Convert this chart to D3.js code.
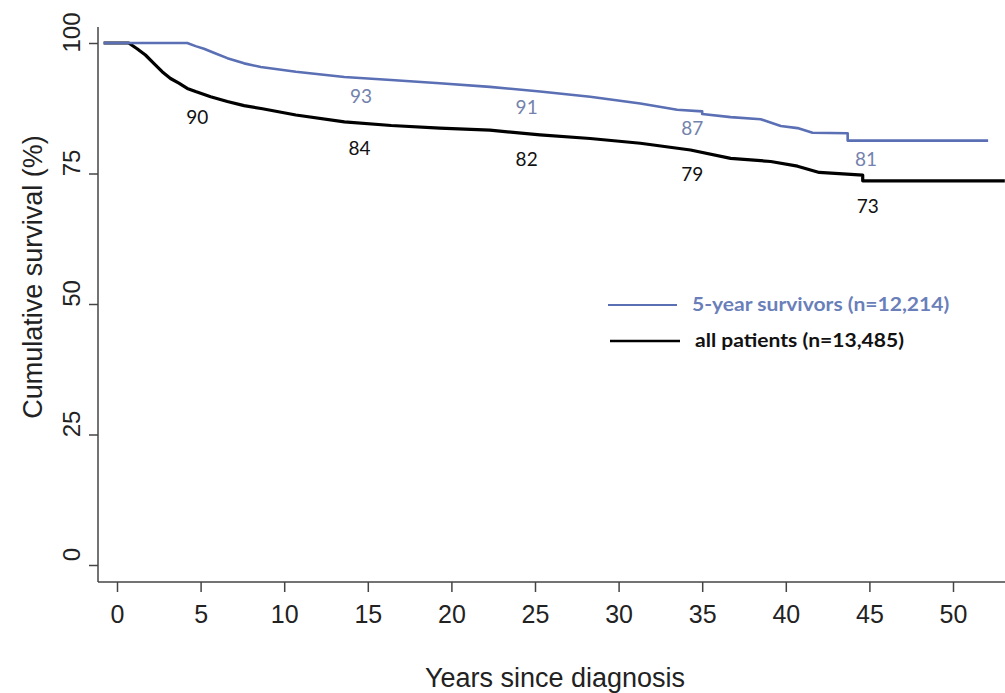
<!DOCTYPE html>
<meta charset="utf-8">
<head>
<title>Cumulative survival</title>
<style>
  body { margin: 0; background: white; }
  .tick text { font-family: "Liberation Sans", Arial, sans-serif; fill: #222; }
</style>
</head>
<body>
<div id="chart"></div>
<script src="https://d3js.org/d3.v7.min.js"></script>
<script>

// values
var blueYears = [-0.8, 4.2, 4.7, 5.2, 5.9, 6.6, 7.6, 8.6, 10.7, 13.6, 16.4, 19.3, 22.3, 25.3, 28.3, 31.3, 33.5, 35.0, 35.0, 36.7, 38.5, 39.7, 40.7, 41.6, 43.7, 43.7, 52.1];
var blueSurv  = [100, 100, 99.4, 98.9, 98.0, 97.1, 96.1, 95.4, 94.5, 93.5, 92.9, 92.3, 91.6, 90.7, 89.7, 88.4, 87.2, 86.9, 86.4, 85.8, 85.4, 84.1, 83.7, 82.8, 82.7, 81.3, 81.3];

var blackYears = [-0.8, 0.7, 1.2, 1.7, 2.2, 2.7, 3.2, 3.7, 4.2, 4.7, 5.6, 6.6, 7.6, 8.7, 10.7, 13.6, 16.4, 19.3, 22.3, 25.3, 28.3, 31.3, 34.3, 36.7, 39.1, 40.7, 42.0, 44.6, 44.6, 53.1];
var blackSurv  = [100, 100, 98.9, 97.7, 96.1, 94.5, 93.2, 92.3, 91.3, 90.7, 89.7, 88.8, 88.0, 87.4, 86.2, 84.9, 84.2, 83.7, 83.3, 82.4, 81.7, 80.8, 79.5, 77.9, 77.3, 76.4, 75.2, 74.7, 73.6, 73.6];

var blueLabelYears = [14.6, 24.5, 34.4, 44.8];
var blueLabels     = [93, 91, 87, 81];
var blackLabelYears = [4.8, 14.5, 24.5, 34.4, 44.9];
var blackLabels     = [90, 84, 82, 79, 73];

var xTicks = [0, 5, 10, 15, 20, 25, 30, 35, 40, 45, 50];
var yTicks = [0, 25, 50, 75, 100];

var seriesNames = ["5-year survivors (n=12,214)", "all patients (n=13,485)"];

var width = 1005, height = 693;
var blue = "#5a6fb4", blueText = "#7382ad";

var svg = d3.select("#chart")
  .append("svg")
    .attr("width", width)
    .attr("height", height);

var x = d3.scaleLinear().domain([0, 50]).range([117, 953]);
var y = d3.scaleLinear().domain([0, 100]).range([565, 43]);

var axisY = 582, axisX = 98;

// x axis
var gx = svg.append("g")
  .attr("transform", "translate(0," + axisY + ")")
  .call(d3.axisBottom(x).tickValues(xTicks).tickSize(10).tickPadding(13));
gx.select(".domain").remove();
gx.selectAll(".tick line").attr("stroke", "#444").attr("stroke-width", 1.5);
gx.selectAll(".tick text").style("font-size", "25px");
svg.append("line")
  .attr("x1", axisX).attr("x2", width)
  .attr("y1", axisY).attr("y2", axisY)
  .attr("stroke", "#444").attr("stroke-width", 1.5);

// y axis
var gy = svg.append("g")
  .attr("transform", "translate(" + axisX + ",0)")
  .call(d3.axisLeft(y).tickValues(yTicks).tickSize(9));
gy.select(".domain").remove();
gy.selectAll(".tick line").attr("stroke", "#444").attr("stroke-width", 1.5);
gy.selectAll(".tick text")
  .style("font-size", "24px")
  .attr("text-anchor", "middle")
  .attr("transform", "rotate(-90)")
  .attr("x", 11)
  .attr("y", -18)
  .attr("dy", 0);
svg.append("line")
  .attr("x1", axisX).attr("x2", axisX)
  .attr("y1", 27).attr("y2", axisY)
  .attr("stroke", "#444").attr("stroke-width", 1.5);

// axis titles
svg.append("text")
  .attr("x", 555).attr("y", 687)
  .attr("text-anchor", "middle")
  .style("font-family", "Liberation Sans, Arial, sans-serif")
  .style("font-size", "27px")
  .style("fill", "#222")
  .text("Years since diagnosis");

svg.append("text")
  .attr("transform", "translate(42,277) rotate(-90)")
  .attr("text-anchor", "middle")
  .style("font-family", "Liberation Sans, Arial, sans-serif")
  .style("font-size", "27px")
  .style("fill", "#222")
  .text("Cumulative survival (%)");

// curves
var line = d3.line()
  .x(function(d) { return x(d[0]); })
  .y(function(d) { return y(d[1]); });

svg.append("path")
  .datum(d3.zip(blackYears, blackSurv))
  .attr("fill", "none")
  .attr("stroke", "black")
  .attr("stroke-width", 3.2)
  .attr("stroke-linejoin", "round")
  .attr("d", line);

svg.append("path")
  .datum(d3.zip(blueYears, blueSurv))
  .attr("fill", "none")
  .attr("stroke", blue)
  .attr("stroke-width", 2.6)
  .attr("stroke-linejoin", "round")
  .attr("d", line);

// value labels
svg.selectAll(".blab")
  .data(d3.zip(blueLabelYears, blueLabels))
  .enter().append("text")
  .attr("x", function(d) { return x(d[0]); })
  .attr("y", function(d) { return y(d[1]) + 17; })
  .attr("dy", "0.36em")
  .attr("text-anchor", "middle")
  .style("font-family", "Lato, sans-serif")
  .style("font-size", "19px")
  .style("fill", blueText)
  .text(function(d) { return d[1]; });

svg.selectAll(".klab")
  .data(d3.zip(blackLabelYears, blackLabels))
  .enter().append("text")
  .attr("x", function(d) { return x(d[0]); })
  .attr("y", function(d) { return y(d[1]) + 22; })
  .attr("dy", "0.36em")
  .attr("text-anchor", "middle")
  .style("font-family", "Lato, sans-serif")
  .style("font-size", "19px")
  .style("fill", "#111")
  .text(function(d) { return d[1]; });

// legend
var legend = svg.append("g");
legend.append("line")
  .attr("x1", 608).attr("x2", 677).attr("y1", 305).attr("y2", 305)
  .attr("stroke", blue).attr("stroke-width", 2.2);
legend.append("text")
  .attr("transform", "translate(692,311) scale(1.17,1)")
  .style("font-family", "Lato, sans-serif")
  .style("font-weight", "bold")
  .style("font-size", "18px")
  .style("fill", "#6a7fba")
  .text(seriesNames[0]);
legend.append("line")
  .attr("x1", 610).attr("x2", 680).attr("y1", 341).attr("y2", 341)
  .attr("stroke", "black").attr("stroke-width", 2.6);
legend.append("text")
  .attr("transform", "translate(695,347) scale(1.17,1)")
  .style("font-family", "Lato, sans-serif")
  .style("font-weight", "bold")
  .style("font-size", "18px")
  .style("fill", "#111")
  .text(seriesNames[1]);

</script>
</body>
